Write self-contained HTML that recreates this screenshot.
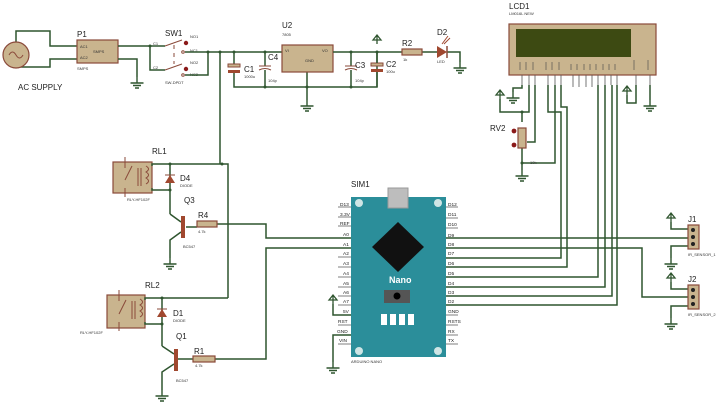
<!DOCTYPE html>
<html><head><meta charset="utf-8"><style>
html,body{margin:0;padding:0;background:#fff;}
svg{display:block;font-family:"Liberation Sans",sans-serif;}
.w{stroke:#2f552f;stroke-width:1.5;fill:none;}
.c{fill:#c9b48e;stroke:#8a4a3a;stroke-width:1.2;}
.p{stroke:#8a4a3a;stroke-width:1;fill:none;}
.t{font-size:8px;fill:#222;}
.s{font-size:4px;fill:#333;}
.pl{font-size:4.8px;fill:#222;}
</style></head><body>
<svg width="723" height="403" viewBox="0 0 723 403" xmlns="http://www.w3.org/2000/svg">
<defs>
<g id="gnd"><path d="M0,0v6M-6.5,6h13M-4,8.5h8M-2,11h4" stroke="#2f552f" stroke-width="1.4" fill="none"/></g>
<g id="vcc"><path d="M0,0v-9M-4,-4L0,-9L4,-4Z" stroke="#2f552f" stroke-width="1.3" fill="none"/></g>
</defs>
<path class="w" d="M16,42V31H50V46H77M16,68V67H50V59H77"/>
<circle cx="16" cy="55" r="13" class="c"/>
<path d="M9,55q3.5,-6 7,0t7,0" stroke="#8a4a3a" fill="none"/>
<text x="18" y="90" class="t">AC SUPPLY</text>
<rect x="77" y="40" width="41" height="23" class="c"/>
<text x="77" y="37" class="t">P1</text>
<text x="80" y="48" class="s">AC1</text><text x="80" y="59" class="s">AC2</text><text x="93" y="53" class="s">SMPS</text>
<text x="77" y="70" class="s">SMPS</text>
<path class="w" d="M118,46H150V70H165M150,46H165M118,59H137V77"/>
<use href="#gnd" x="137" y="77"/>
<circle cx="150" cy="46" r="1.5" fill="#2f552f"/>
<text x="165" y="36" class="t">SW1</text>
<path class="p" d="M165,46L182,40M165,70L182,64M174,45v4M174,53v4M174,61v3"/>
<circle cx="186" cy="43" r="2.2" fill="#8b1a1a"/><circle cx="186" cy="69" r="2.2" fill="#8b1a1a"/>
<circle cx="183" cy="52" r="1.3" fill="none" stroke="#8a4a3a"/><circle cx="183" cy="75" r="1.3" fill="none" stroke="#8a4a3a"/>
<text x="190" y="38" class="s">NO1</text><text x="190" y="52" class="s">NC1</text><text x="190" y="64" class="s">NO2</text><text x="190" y="76" class="s">NC2</text>
<text x="153" y="45" class="s">C1</text><text x="153" y="69" class="s">C2</text>
<text x="165" y="84" class="s">SW-DPDT</text>
<path class="w" d="M185,52H282M185,75H208V52M220,52V164"/>
<path class="w" d="M234,52V64M234,73V87H377V52M265,52V66M265,70V87M307,72V100"/>
<rect x="228" y="64" width="12" height="3" fill="#c9b48e" stroke="#8a4a3a"/><rect x="228" y="70" width="12" height="3" fill="#a0482f"/>
<path class="p" d="M259,66h12M259,70q6,-3 12,0"/>
<text x="244" y="72" class="t">C1</text><text x="244" y="78" class="s">1000u</text>
<text x="268" y="60" class="t">C4</text><text x="268" y="82" class="s">104p</text>
<use href="#gnd" x="307" y="100"/>
<rect x="282" y="45" width="51" height="27" class="c"/>
<text x="282" y="28" class="t">U2</text><text x="282" y="36" class="s">7805</text>
<text x="285" y="52" class="s">VI</text><text x="322" y="52" class="s">VO</text><text x="305" y="62" class="s">GND</text>
<path class="w" d="M333,52H402M422,52H437M447,52H460V62M351,52V66M351,70V87"/>
<path class="p" d="M345,66h12M345,70q6,-3 12,0"/>
<text x="355" y="68" class="t">C3</text><text x="355" y="82" class="s">104p</text>
<rect x="371" y="63" width="12" height="3" fill="#c9b48e" stroke="#8a4a3a"/><rect x="371" y="69" width="12" height="3" fill="#a0482f"/>
<text x="386" y="67" class="t">C2</text><text x="386" y="73" class="s">100u</text>
<path class="w" d="M377,52V63M377,72V87"/>
<use href="#vcc" x="377" y="44"/>
<circle cx="351" cy="52" r="1.5" fill="#2f552f"/><circle cx="377" cy="52" r="1.5" fill="#2f552f"/><circle cx="234" cy="52" r="1.5" fill="#2f552f"/><circle cx="265" cy="52" r="1.5" fill="#2f552f"/><circle cx="208" cy="52" r="1.5" fill="#2f552f"/><circle cx="220" cy="52" r="1.5" fill="#2f552f"/><circle cx="307" cy="87" r="1.5" fill="#2f552f"/><circle cx="265" cy="87" r="1.5" fill="#2f552f"/><circle cx="351" cy="87" r="1.5" fill="#2f552f"/>
<rect x="402" y="49" width="20" height="6" class="c"/>
<text x="402" y="46" class="t">R2</text><text x="403" y="61" class="s">1k</text>
<path d="M437,46L447,52L437,58Z" fill="#a0482f"/><path d="M447,46v12" stroke="#8a4a3a" stroke-width="1.5"/>
<path d="M442,44l6,-8M444,44l6,-6" stroke="#a0482f"/>
<text x="437" y="35" class="t">D2</text><text x="437" y="63" class="s">LED</text>
<use href="#gnd" x="460" y="62"/>
<text x="152" y="154" class="t">RL1</text>
<rect x="113" y="162" width="39" height="31" class="c"/>
<path class="p" d="M125,157V168M125,180L132,166M125,188V197M138,168v18M141,168v18M146,166q5,3 0,6q5,3 0,6q5,3 0,6"/>
<text x="127" y="201" class="s">RLY-HF102F</text>
<path class="w" d="M152,166V164H228V298M152,188V190H170V214M170,164V190"/>
<path d="M165,183h10l-5,-8z" fill="#a0482f"/><path d="M165,175h10" stroke="#8a4a3a"/>
<text x="180" y="181" class="t">D4</text><text x="180" y="187" class="s">DIODE</text>
<text x="184" y="203" class="t">Q3</text>
<path class="w" d="M170,214L181,222M181,232L170,240V258M186,227H197M217,224H266V238H351"/>
<rect x="181" y="216" width="4" height="22" fill="#a0482f"/>
<rect x="197" y="221" width="20" height="6" class="c"/>
<text x="198" y="218" class="t">R4</text><text x="198" y="233" class="s">4.7k</text>
<text x="183" y="248" class="s">BC547</text>
<use href="#gnd" x="170" y="258"/>
<circle cx="222" cy="164" r="1.5" fill="#2f552f"/><circle cx="170" cy="164" r="1.5" fill="#2f552f"/><circle cx="170" cy="190" r="1.5" fill="#2f552f"/>
<text x="145" y="288" class="t">RL2</text>
<rect x="107" y="295" width="38" height="33" class="c"/>
<path class="p" d="M119,290V301M119,314L126,300M119,322V331M132,301v18M135,301v18M140,299q5,3 0,6q5,3 0,6q5,3 0,6"/>
<text x="80" y="334" class="s">RLY-HF102F</text>
<path class="w" d="M145,300V298H228M145,322V324H162V346M162,298V324M162,346L174,354M174,364L162,372V390M178,359H193M215,359H266V248H351"/>
<path d="M157,317h10l-5,-8z" fill="#a0482f"/><path d="M157,309h10" stroke="#8a4a3a"/>
<text x="173" y="316" class="t">D1</text><text x="173" y="322" class="s">DIODE</text>
<text x="176" y="339" class="t">Q1</text>
<rect x="174" y="349" width="4" height="22" fill="#a0482f"/>
<rect x="193" y="356" width="22" height="6" class="c"/>
<text x="194" y="354" class="t">R1</text><text x="195" y="367" class="s">4.7k</text>
<text x="176" y="382" class="s">BC547</text>
<use href="#gnd" x="162" y="390"/>
<circle cx="162" cy="298" r="1.5" fill="#2f552f"/><circle cx="162" cy="324" r="1.5" fill="#2f552f"/>
<text x="351" y="187" class="t">SIM1</text>
<rect x="351" y="197" width="95" height="160" fill="#2b8e9a"/>
<rect x="388" y="188" width="20" height="20" fill="#bdbdbd" stroke="#999"/>
<circle cx="359" cy="203" r="4" fill="#cfe5e5"/><circle cx="438" cy="203" r="4" fill="#cfe5e5"/><circle cx="359" cy="351" r="4" fill="#cfe5e5"/><circle cx="438" cy="351" r="4" fill="#cfe5e5"/>
<path d="M398,222L424,247L398,272L372,247Z" fill="#111"/>
<text x="389" y="283" fill="#fff" font-size="9" font-weight="bold">Nano</text>
<rect x="384" y="290" width="26" height="13" fill="#555"/><circle cx="397" cy="296" r="3.5" fill="#000"/>
<rect x="381" y="314" width="6" height="11" fill="#fff"/><rect x="390" y="314" width="6" height="11" fill="#fff"/><rect x="399" y="314" width="6" height="11" fill="#fff"/><rect x="408" y="314" width="6" height="11" fill="#fff"/>
<text x="351" y="363" class="s">ARDUINO NANO</text>
<g class="pl">
<text x="340" y="206">D13</text><text x="340" y="216">3.3V</text><text x="340" y="225">REF</text><text x="343" y="236">A0</text><text x="343" y="246">A1</text><text x="343" y="255">A2</text><text x="343" y="265">A3</text><text x="343" y="275">A4</text><text x="343" y="285">A5</text><text x="343" y="294">A6</text><text x="343" y="303">A7</text><text x="343" y="313">5V</text><text x="338" y="323">RST</text><text x="337" y="333">GND</text><text x="339" y="342">VIN</text>
<text x="448" y="206">D12</text><text x="448" y="216">D11</text><text x="448" y="226">D10</text><text x="448" y="237">D9</text><text x="448" y="246">D8</text><text x="448" y="255">D7</text><text x="448" y="265">D6</text><text x="448" y="275">D5</text><text x="448" y="285">D4</text><text x="448" y="294">D3</text><text x="448" y="303">D2</text><text x="448" y="313">GND</text><text x="448" y="323">RSTS</text><text x="448" y="333">RX</text><text x="448" y="342">TX</text>
</g>
<path stroke="#555" stroke-width="0.8" d="M338,207h13M338,217h13M338,226h13M338,257h13M338,267h13M338,277h13M338,287h13M338,296h13M338,305h13M338,325h13M338,344h13M446,207h12M446,218h12M446,228h12M446,315h12M446,325h12M446,335h12M446,344h12"/>
<path class="w" d="M333,304V315H351M351,335H333V362"/>
<use href="#vcc" x="333" y="304"/><use href="#gnd" x="333" y="362"/>
<path class="w" d="M446,238H680M446,248H642V297H680M446,258H561V112H548V85M446,267H567V107H561V85M446,277H598V85M446,287H605V85M446,296H612V85M446,305H617V85"/>
<text x="509" y="9" class="t">LCD1</text><text x="509" y="15" class="s">LM016L NEW</text>
<rect x="509" y="24" width="147" height="51" class="c"/>
<rect x="516" y="29" width="115" height="28" fill="#3d4a12"/>
<path stroke="#555" stroke-width="0.8" d="M522,75v10M529,75v10M535,75v10M548,75v10M555,75v10M561,75v10M573,75v12M579,75v12M586,75v12M592,75v12M598,75v10M605,75v10M611,75v10M617,75v10M636,75v10M650,75v10"/>
<path stroke="#444" stroke-width="0.6" d="M520,62v8M526,62v8M533,62v8M546,62v8M552,62v8M559,62v8M571,64v6M577,64v6M584,64v6M590,64v6M596,64v6M603,64v6M609,64v6M615,64v6M634,60v10M648,60v10"/>
<path class="w" d="M522,85V88H513V92M529,85V112H500V99M535,85V142H527M555,85V163H522M522,112V122M522,148V163V170M636,85V103H627V95M650,85V100"/>
<use href="#gnd" x="513" y="92"/><use href="#vcc" x="500" y="99"/><use href="#vcc" x="627" y="95"/><use href="#gnd" x="650" y="100"/><use href="#gnd" x="522" y="170"/>
<rect x="518" y="128" width="8" height="20" class="c"/>
<circle cx="514" cy="131" r="2.4" fill="#8b1a1a"/><circle cx="514" cy="145" r="2.4" fill="#8b1a1a"/>
<circle cx="522" cy="112" r="1.5" fill="#2f552f"/><circle cx="522" cy="163" r="1.5" fill="#2f552f"/>
<text x="490" y="131" class="t">RV2</text><text x="530" y="164" class="s">10k</text>
<path class="w" d="M680,229H671V222M680,246H671V258M680,289H671V282M680,306H671V318"/>
<path class="w" d="M680,229h8M680,238h8M680,246h8M680,289h8M680,297h8M680,306h8"/>
<use href="#vcc" x="671" y="222"/><use href="#gnd" x="671" y="258"/><use href="#vcc" x="671" y="282"/><use href="#gnd" x="671" y="318"/>
<rect x="688" y="225" width="11" height="24" class="c"/><rect x="688" y="285" width="11" height="24" class="c"/>
<circle cx="693" cy="230" r="2" fill="#222"/><circle cx="693" cy="237" r="2" fill="#222"/><circle cx="693" cy="244" r="2" fill="#222"/>
<circle cx="693" cy="290" r="2" fill="#222"/><circle cx="693" cy="297" r="2" fill="#222"/><circle cx="693" cy="304" r="2" fill="#222"/>
<text x="688" y="222" class="t">J1</text><text x="688" y="282" class="t">J2</text>
<text x="688" y="256" class="s">IR_SENSOR_1</text><text x="688" y="316" class="s">IR_SENSOR_2</text>
</svg>
</body></html>
